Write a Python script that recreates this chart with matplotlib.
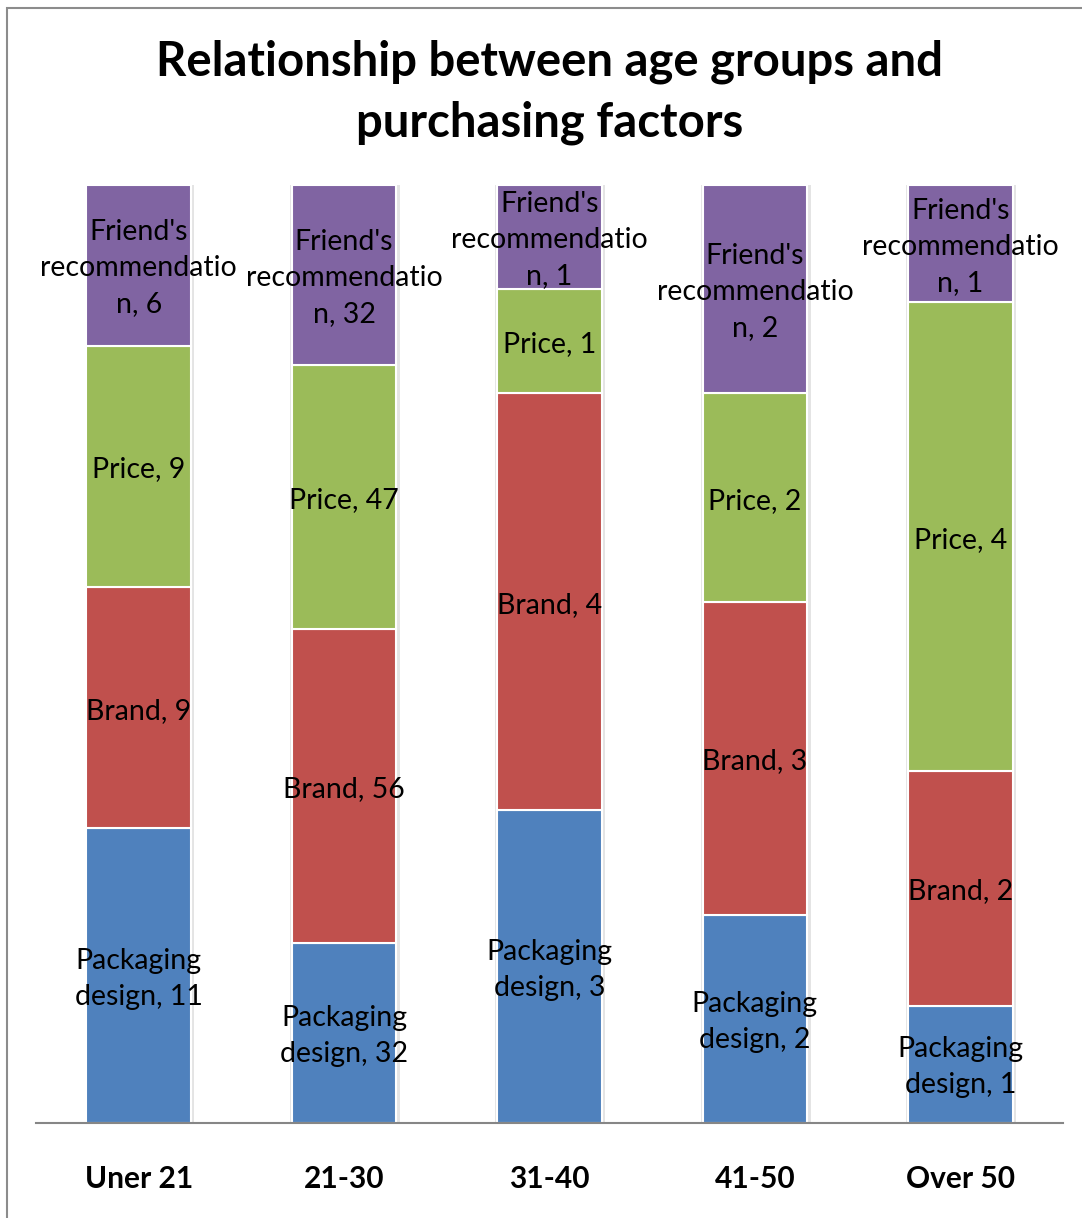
import numpy as np
import matplotlib.pyplot as plt
import matplotlib.transforms as mtransforms
from matplotlib.patches import Rectangle

# age groups and answer counts per purchasing factor
age_groups = ["Uner 21", "21-30", "31-40", "41-50", "Over 50"]
packaging = [11, 32, 3, 2, 1]
brand = [9, 56, 4, 3, 2]
price = [9, 47, 1, 2, 4]
friends = [6, 32, 1, 2, 1]

series = [
    ("Packaging\ndesign", packaging, "#4F81BD"),
    ("Brand", brand, "#C0504D"),
    ("Price", price, "#9BBB59"),
    ("Friend's\nrecommendatio\nn", friends, "#8064A2"),
]

plt.rcParams['font.family'] = ['Lato', 'DejaVu Sans']

fig = plt.figure(figsize=(10.82, 12.18), dpi=100)
ax = fig.add_axes([36 / 1082, 1 - 1123 / 1218, 1027 / 1082, (1123 - 185) / 1218])

# outer chart border (left and top visible)
fig.add_artist(Rectangle((7 / 1082, -0.1), 1.2, 1 - 8 / 1218 + 0.1,
                         transform=fig.transFigure, fill=False,
                         edgecolor="#8c8c8c", linewidth=1.5))

totals = np.sum([s[1] for s in series], axis=0)
x = np.arange(len(age_groups))
bottom = np.zeros(len(age_groups))
width = 0.51

# soft shadow behind each full stack
ax.bar(x + 0.004, 1.0, width + 0.025, color="#e4e4e4", zorder=1)

# nudge data labels down a little
label_tf = ax.transData + mtransforms.ScaledTranslation(0, -3 / 100, fig.dpi_scale_trans)

for name, vals, color in series:
    share = np.array(vals) / totals
    ax.bar(x, share, width, bottom=bottom, color=color,
           edgecolor="white", linewidth=1.5, zorder=2)
    for xi, b, h, v in zip(x, bottom, share, vals):
        ax.text(xi, b + h / 2, f"{name}, {v}", ha="center", va="center",
                fontsize=20.5, color="black", linespacing=1.48, zorder=3,
                transform=label_tf)
    bottom += share

ax.set_xlim(-0.5, len(age_groups) - 0.5)
ax.set_ylim(0, 1)
ax.set_yticks([])
ax.set_xticks(x)
ax.set_xticklabels(age_groups, fontsize=21.5, fontweight="bold")
ax.tick_params(axis="x", length=0, pad=30)
for side in ["left", "right", "top"]:
    ax.spines[side].set_visible(False)
ax.spines["bottom"].set_color("#868686")
ax.spines["bottom"].set_linewidth(1.5)
ax.spines["bottom"].set_zorder(4)

fig.text(0.508, 1 - 92 / 1218,
         "Relationship between age groups and\npurchasing factors",
         ha="center", va="center", fontsize=34, fontweight="bold",
         linespacing=1.46)

plt.savefig("out.png", dpi=100)
plt.close()
